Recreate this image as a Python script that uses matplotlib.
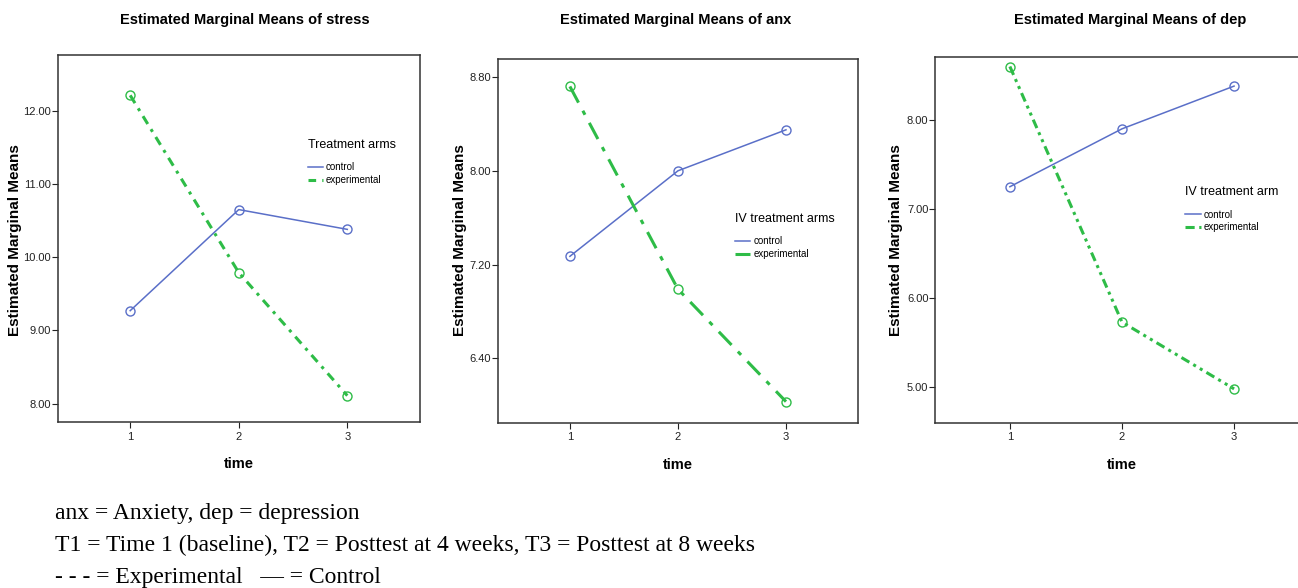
import matplotlib; matplotlib.use("Agg")
import matplotlib.pyplot as plt
from matplotlib.lines import Line2D

plt.rcParams["font.family"] = ["Liberation Sans", "DejaVu Sans"]

time = [1, 2, 3]
measures = ["stress", "anx", "dep"]
control = {"stress": [9.27, 10.65, 10.38], "anx": [7.27, 8.00, 8.35], "dep": [7.25, 7.90, 8.38]}
experimental = {"stress": [12.21, 9.79, 8.11], "anx": [8.72, 6.99, 6.03], "dep": [8.60, 5.73, 4.98]}
legend_titles = {"stress": "Treatment arms", "anx": "IV treatment arms", "dep": "IV treatment arm"}
yticks = {"stress": [8, 9, 10, 11, 12], "anx": [6.4, 7.2, 8.0, 8.8], "dep": [5, 6, 7, 8]}
ylims = {"stress": (7.75, 12.76), "anx": (5.85, 8.954), "dep": (4.60, 8.707)}
footnotes = ["anx = Anxiety, dep = depression",
             "T1 = Time 1 (baseline), T2 = Posttest at 4 weeks, T3 = Posttest at 8 weeks",
             "- - - = Experimental   \u2014 = Control"]

blue = "#5a6fc8"
green = "#2ebc47"
dash = {"stress": (0, (3, 2, 1, 2)), "anx": (0, (6, 3, 1.5, 3)), "dep": (0, (3, 1.5, 1, 1.5, 1, 1.5))}
leg_dash = {"stress": (0, (2.5, 2)), "anx": (0, (6, 3, 1.5, 3)), "dep": (0, (3, 1.5, 1, 1.5, 1, 1.5))}
# axes rects in figure fraction
rects = {"stress": [0.0447, 0.2823, 0.2789, 0.6241],
         "anx": [0.3837, 0.2811, 0.2776, 0.6185],
         "dep": [0.7206, 0.2811, 0.288, 0.622]}
leg_pos = {"stress": (0.665, 0.795), "anx": (0.633, 0.6), "dep": (0.645, 0.67)}
title_x = {"stress": 245 / 1298, "anx": 676 / 1298, "dep": 1130 / 1298}
ylab_x = {"stress": 15 / 1298, "anx": 460 / 1298, "dep": 896 / 1298}

fig = plt.figure(figsize=(12.98, 5.88), dpi=100)
for m in measures:
    ax = fig.add_axes(rects[m])
    ax.plot(time, control[m], color=blue, lw=1.1, marker="o", ms=6.5, mfc="none", mec=blue, mew=1)
    ax.plot(time, experimental[m], color=green, lw=2.2, ls=dash[m], marker="o", ms=6.5,
            mfc="none", mec=green, mew=1)
    ax.set_xlim(0.335, 3.67)
    ax.set_ylim(*ylims[m])
    ax.set_xticks(time)
    ax.set_yticks(yticks[m])
    ax.set_yticklabels(["%.2f" % v for v in yticks[m]])
    ax.tick_params(labelsize=8, colors="#222222", length=4, width=0.8, pad=1)
    ax.tick_params(axis="x", pad=3)
    for s in ax.spines.values():
        s.set_linewidth(1.1)
        s.set_color("#333333")
    fig.text(title_x[m], 1 - 20 / 588, "Estimated Marginal Means of " + m, ha="center", va="center",
             fontsize=10.5, fontweight="bold")
    fig.text(ylab_x[m], 1 - 240 / 588, "Estimated Marginal Means", rotation=90,
             ha="center", va="center", fontsize=11, fontweight="bold")
    ax.set_xlabel("time", fontsize=10.5, fontweight="bold", labelpad=11)
    handles = [Line2D([], [], color=blue, lw=1.1),
               Line2D([], [], color=green, lw=2.2, ls=leg_dash[m])]
    leg = ax.legend(handles, ["control", "experimental"], title=legend_titles[m], loc="upper left",
                    bbox_to_anchor=leg_pos[m], frameon=False, fontsize=7, title_fontsize=9,
                    handlelength=1.6, handletextpad=0.3, labelspacing=0.3, alignment="left")
    leg._legend_box.sep = 8

for i, t in enumerate(footnotes):
    fig.text(55 / 1298, 1 - (513 + 32 * i) / 588, t, ha="left", va="center",
             fontsize=17, family=["Liberation Serif", "DejaVu Serif"])

fig.savefig("out.png", dpi=100)
